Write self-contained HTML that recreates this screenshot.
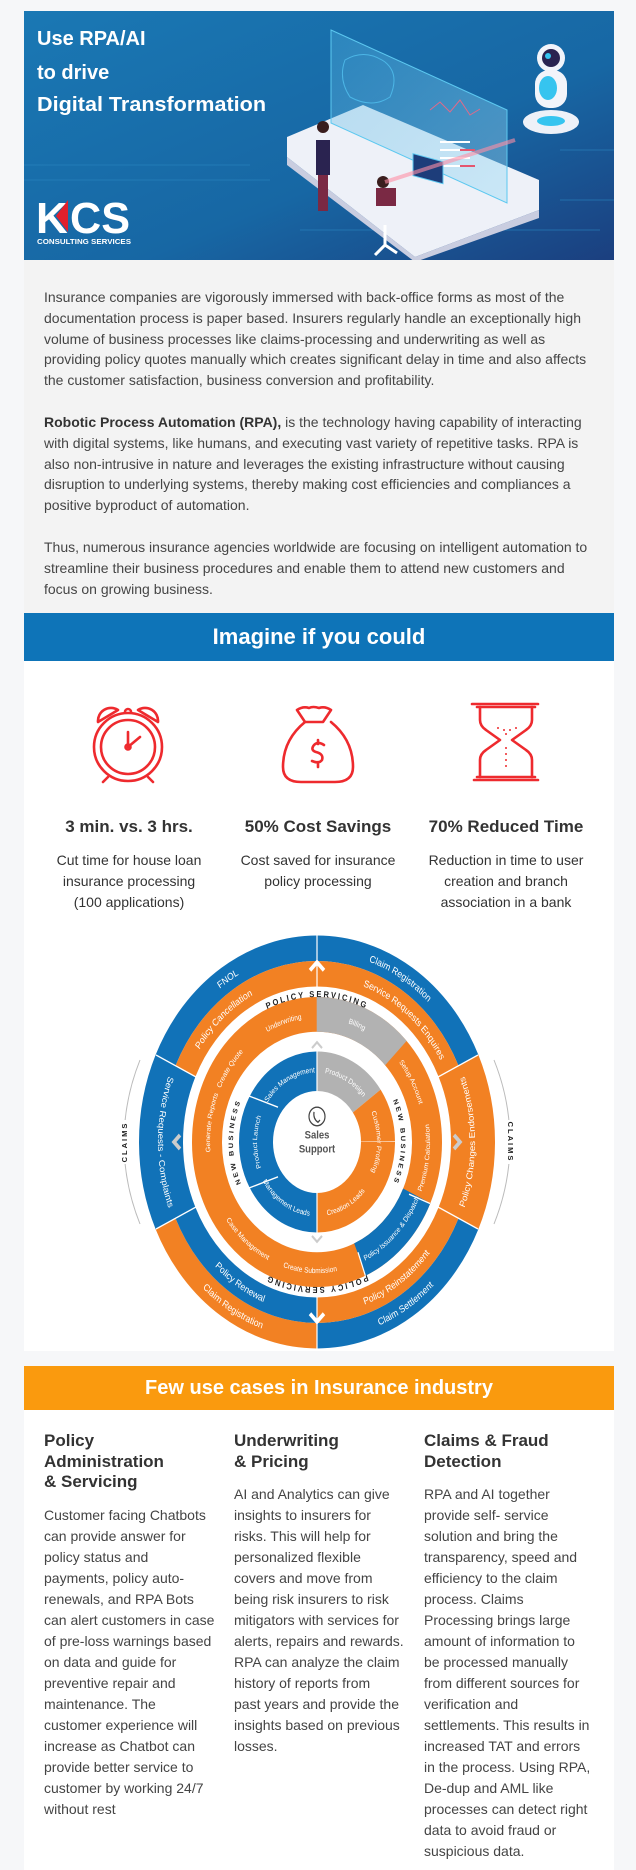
<!DOCTYPE html>
<html><head><meta charset="utf-8">
<style>
*{margin:0;padding:0;box-sizing:border-box}
html,body{width:636px;height:1870px;background:#f6f7f9;overflow:hidden}
body{position:relative;font-family:"Liberation Sans",Arial,sans-serif;color:#444}
.abs{position:absolute}
#txt{left:24px;top:260px;width:590px;height:353px;background:#f3f3f3}
#txt p{position:absolute;left:20px;font-size:14px;line-height:20.8px;white-space:nowrap;color:#454545}
#bar1{left:24px;top:613px;width:590px;height:48px;background:#0e74b8;color:#fff;font-weight:bold;font-size:22px;text-align:center;line-height:48px}
#white1{left:24px;top:661px;width:590px;height:690px;background:#fff}
.stat{position:absolute;width:200px;text-align:center}
.stat h3{font-size:17px;line-height:22px;color:#333;font-weight:bold}
.stat div{font-size:14px;line-height:21px;color:#333;margin-top:12px}
#bar2{left:24px;top:1366px;width:590px;height:44px;background:#fa9a0e;color:#fff;font-weight:bold;font-size:20px;text-align:center;line-height:44px}
#white2{left:24px;top:1410px;width:590px;height:460px;background:#fff}
.col{position:absolute;width:180px}
.col h4{font-size:17px;line-height:20.7px;color:#333;font-weight:bold}
.col p{font-size:14px;line-height:21px;color:#444;white-space:nowrap}
</style></head><body>

<!-- Banner -->
<svg class="abs" style="left:0;top:0" width="636" height="262" viewBox="0 0 636 262">
<defs>
<linearGradient id="bg" x1="0" y1="0" x2="1" y2="1">
<stop offset="0" stop-color="#1a78b4"/><stop offset="0.6" stop-color="#1767a4"/><stop offset="1" stop-color="#1b3f7f"/></linearGradient>
<linearGradient id="gl" x1="0" y1="0" x2="1" y2="1">
<stop offset="0" stop-color="#4fb0e0" stop-opacity="0.35"/><stop offset="1" stop-color="#9fdcf5" stop-opacity="0.45"/></linearGradient>
</defs>
<rect x="24" y="11" width="590" height="249" fill="url(#bg)"/>
<g stroke="#2a86c0" stroke-width="1" fill="none" opacity="0.6">
<path d="M24 165 H250 M24 180 H270 M300 230 H600 M560 150 H614 M560 200 H614"/>
</g>
<polygon points="287,137 363,105 539,180 539,210 415,257 287,157" fill="#eef1f8"/>
<polygon points="287,157 415,257 539,210 539,218 415,262 287,165" fill="#c9cde0"/>
<polygon points="331,30 507,110 507,203 331,123" fill="url(#gl)" stroke="#5cc8f0" stroke-width="1"/>
<path d="M345 60 q20 -12 40 2 q15 12 5 35 q-18 12 -40 0 q-12 -18 -5 -37z" fill="none" stroke="#4cb6e6" stroke-width="1"/>
<path d="M430 110 l10 -8 l10 10 l10 -12 l10 15 l10 -6" fill="none" stroke="#e06a8a" stroke-width="1"/>
<g stroke="#fff" stroke-width="2"><path d="M440 142 h30 M440 150 h35 M440 158 h30 M440 166 h35"/></g>
<g stroke="#e4566f" stroke-width="2"><path d="M460 150 h15 M460 166 h15"/></g>
<rect x="413" y="153" width="30" height="22" fill="#1d3d7a" stroke="#5cc8f0" transform="skewY(15) translate(0,-110)"/>
<!-- people -->
<rect x="316" y="140" width="14" height="35" fill="#2a2350"/>
<circle cx="323" cy="127" r="6" fill="#3a1e1e"/>
<rect x="318" y="175" width="10" height="36" fill="#7a2944"/>
<rect x="376" y="188" width="20" height="18" fill="#7a2944"/>
<circle cx="383" cy="182" r="6" fill="#3a1e1e"/>
<path d="M385 245 l-10 10 M385 245 l12 8 M385 245 v-20" stroke="#fff" stroke-width="3"/>
<!-- robot -->
<ellipse cx="551" cy="122" rx="28" ry="12" fill="#eef1f8"/>
<ellipse cx="551" cy="121" rx="14" ry="5" fill="#36c4ef"/>
<rect x="535" y="70" width="32" height="38" rx="14" fill="#f2f4fa"/>
<ellipse cx="548" cy="88" rx="9" ry="12" fill="#36c4ef"/>
<circle cx="551" cy="58" r="14" fill="#f2f4fa"/>
<circle cx="551" cy="58" r="9" fill="#2a2350"/>
<circle cx="548" cy="56" r="3" fill="#36c4ef"/>
<path d="M515 140 L385 182" stroke="#ff8fa6" stroke-width="4" opacity="0.6"/>
<!-- title -->
<g fill="#fff" font-family="Liberation Sans, sans-serif" font-weight="bold" font-size="20">
<text x="37" y="45">Use RPA/AI</text>
<text x="37" y="79">to drive</text>
<text x="37" y="111" textLength="229" lengthAdjust="spacingAndGlyphs">Digital Transformation</text>
</g>
<g font-family="Liberation Sans, sans-serif" font-weight="bold">
<text x="36" y="233" fill="#fff" font-size="44">K</text>
<polygon points="68,200 68,232 56,216" fill="#e0202c"/>
<text x="70" y="233" fill="#fff" font-size="44" textLength="60" lengthAdjust="spacingAndGlyphs">CS</text>
<text x="37" y="244" fill="#fff" font-size="7.5" textLength="94" lengthAdjust="spacingAndGlyphs">CONSULTING SERVICES</text>
</g>
</svg>

<div id="txt" class="abs">
<p style="top:27px">Insurance companies are vigorously immersed with back-office forms as most of the<br>documentation process is paper based. Insurers regularly handle an exceptionally high<br>volume of business processes like claims-processing and underwriting as well as<br>providing policy quotes manually which creates significant delay in time and also affects<br>the customer satisfaction, business conversion and profitability.</p>
<p style="top:152px"><b style="color:#333">Robotic Process Automation (RPA),</b> is the technology having capability of interacting<br>with digital systems, like humans, and executing vast variety of repetitive tasks. RPA is<br>also non-intrusive in nature and leverages the existing infrastructure without causing<br>disruption to underlying systems, thereby making cost efficiencies and compliances a<br>positive byproduct of automation.</p>
<p style="top:277px">Thus, numerous insurance agencies worldwide are focusing on intelligent automation to<br>streamline their business procedures and enable them to attend new customers and<br>focus on growing business.</p>
</div>

<div id="bar1" class="abs">Imagine if you could</div>
<div id="white1" class="abs"></div>

<div class="stat" style="left:29px;top:816px"><h3>3 min. vs. 3 hrs.</h3><div>Cut time for house loan<br>insurance processing<br>(100 applications)</div></div>
<div class="stat" style="left:218px;top:816px"><h3>50% Cost Savings</h3><div>Cost saved for insurance<br>policy processing</div></div>
<div class="stat" style="left:406px;top:816px"><h3>70% Reduced Time</h3><div>Reduction in time to user<br>creation and branch<br>association in a bank</div></div>

<svg class="abs" style="left:0;top:0" width="636" height="1360" viewBox="0 0 636 1360">
<!-- icons -->
<g fill="none" stroke="#ee2a2e" stroke-width="2.6" stroke-linecap="round" stroke-linejoin="round">
<circle cx="128" cy="747" r="34"/>
<circle cx="128" cy="747" r="27"/>
<path d="M128 747 v-15 M128 747 l12 -10"/>
<circle cx="128" cy="747" r="2.5"/>
<path d="M98 722 a13 13 0 0 1 20 -12 z M158 722 a13 13 0 0 0 -20 -12 z"/>
<path d="M125 712 a3 3 0 0 1 6 0"/>
<path d="M108 777 l-5 5 M148 777 l5 5"/>
<!-- bag -->
<path d="M305 722 l-8 -12 q6 -4 12 -2 q4 -2 10 0 q6 -2 12 2 l-8 12 z"/>
<path d="M305 722 q-22 18 -22 45 q0 15 18 15 h34 q18 0 18 -15 q0 -27 -22 -45"/>
<path d="M324 745 q-6 -4 -10 0 q-4 5 2 7 q8 2 6 8 q-3 4 -10 1 M318 740 v4 M318 762 v5"/>
<!-- hourglass -->
<path d="M472 704 h66 M474 780 h64 M477 707 h58 M477 777 h58"/>
<path d="M480 707 v13 q0 6 6 10 l14 10 l-14 10 q-6 4 -6 10 v17 M532 707 v13 q0 6 -6 10 l-14 10 l14 10 q6 4 6 10 v17"/>
</g>
<g fill="#ee2a2e"><circle cx="498" cy="728" r="1"/><circle cx="504" cy="730" r="1"/><circle cx="510" cy="730" r="1"/><circle cx="516" cy="728" r="1"/><circle cx="506" cy="734" r="1"/><circle cx="506" cy="748" r="1"/><circle cx="506" cy="754" r="1"/><circle cx="506" cy="760" r="1"/><circle cx="506" cy="766" r="1"/></g>

<!-- CLAIMS side labels -->
<g fill="none" stroke="#bbb" stroke-width="1">
<path d="M140 1060 q-16 40 -16 82 q0 42 16 82"/>
<path d="M494 1060 q16 40 16 82 q0 42 -16 82"/>
</g>
<rect x="118" y="1120" width="12" height="44" fill="#fff"/>
<rect x="505" y="1120" width="12" height="44" fill="#fff"/>
<text transform="translate(127,1142) rotate(-90)" text-anchor="middle" font-size="7.5" font-weight="bold" letter-spacing="2" fill="#222" font-family="Liberation Sans, sans-serif">CLAIMS</text>
<text transform="translate(508,1142) rotate(90)" text-anchor="middle" font-size="7.5" font-weight="bold" letter-spacing="2" fill="#222" font-family="Liberation Sans, sans-serif">CLAIMS</text>

<g transform="translate(317,1142) scale(1,1.16)" font-family="Liberation Sans, sans-serif">
<defs>
<path id="cw167" d="M164,0 A164 164 0 1 1 -164,0 A164 164 0 1 1 164,0"/>
<path id="ccw167" d="M170,0 A170 170 0 1 0 -170,0 A170 170 0 1 0 170,0"/>
<path id="cw145" d="M142,0 A142 142 0 1 1 -142,0 A142 142 0 1 1 142,0"/>
<path id="ccw145" d="M148,0 A148 148 0 1 0 -148,0 A148 148 0 1 0 148,0"/>
<path id="ccwL156" d="M-158,0 A158 158 0 1 0 158,0 A158 158 0 1 0 -158,0"/>
<path id="ccw156" d="M159,0 A159 159 0 1 0 -159,0 A159 159 0 1 0 159,0"/>
<path id="cw125" d="M125,0 A125 125 0 1 1 -125,0 A125 125 0 1 1 125,0"/>
<path id="cw108" d="M107,0 A107 107 0 1 1 -107,0 A107 107 0 1 1 107,0"/>
<path id="ccw112" d="M113,0 A113 113 0 1 0 -113,0 A113 113 0 1 0 113,0"/>
<path id="ccwL112" d="M-113,0 A113 113 0 1 0 113,0 A113 113 0 1 0 -113,0"/>
<path id="cwL85" d="M-84,0 A84 84 0 1 1 84,0 A84 84 0 1 1 -84,0"/>
<path id="cw62" d="M60,0 A60 60 0 1 1 -60,0 A60 60 0 1 1 60,0"/>
<path id="cwL62" d="M-60,0 A60 60 0 1 1 60,0 A60 60 0 1 1 -60,0"/>
<path id="ccw62" d="M64,0 A64 64 0 1 0 -64,0 A64 64 0 1 0 64,0"/>
</defs>
<g fill="none">
<!-- outer top -->
<circle r="167" stroke="#1172b8" stroke-width="22" pathLength="360" stroke-dasharray="130 360" stroke-dashoffset="-205"/>
<circle r="145" stroke="#f28123" stroke-width="22" pathLength="360" stroke-dasharray="130 360" stroke-dashoffset="-205"/>
<!-- right -->
<circle r="156" stroke="#f28123" stroke-width="44" pathLength="360" stroke-dasharray="25 360" stroke-dashoffset="-335"/>
<circle r="156" stroke="#f28123" stroke-width="44" pathLength="360" stroke-dasharray="25 360" stroke-dashoffset="0"/>
<!-- left -->
<circle r="156" stroke="#1172b8" stroke-width="44" pathLength="360" stroke-dasharray="50 360" stroke-dashoffset="-155"/>
<!-- bottom -->
<circle r="167" stroke="#1172b8" stroke-width="22" pathLength="360" stroke-dasharray="65 360" stroke-dashoffset="-25"/>
<circle r="167" stroke="#f28123" stroke-width="22" pathLength="360" stroke-dasharray="65 360" stroke-dashoffset="-90"/>
<circle r="145" stroke="#f28123" stroke-width="22" pathLength="360" stroke-dasharray="65 360" stroke-dashoffset="-25"/>
<circle r="145" stroke="#1172b8" stroke-width="22" pathLength="360" stroke-dasharray="65 360" stroke-dashoffset="-90"/>
<!-- middle ring -->
<circle r="110" stroke="#f28123" stroke-width="30"/>
<circle r="110" stroke="#b2b2b2" stroke-width="30" pathLength="360" stroke-dasharray="46 360" stroke-dashoffset="-270"/>
<circle r="110" stroke="#1172b8" stroke-width="30" pathLength="360" stroke-dasharray="42 360" stroke-dashoffset="-25"/>
<!-- inner ring -->
<circle r="61" stroke="#1172b8" stroke-width="34" pathLength="360" stroke-dasharray="180 360" stroke-dashoffset="-90"/>
<circle r="61" stroke="#b2b2b2" stroke-width="34" pathLength="360" stroke-dasharray="55 360" stroke-dashoffset="-270"/>
<circle r="61" stroke="#f28123" stroke-width="34" pathLength="360" stroke-dasharray="35 360" stroke-dashoffset="-325"/>
<circle r="61" stroke="#f28123" stroke-width="34" pathLength="360" stroke-dasharray="90 360" stroke-dashoffset="0"/>
</g>
<!-- dividers -->
<g stroke="#fff" stroke-width="1.2">
<path d="M0 -178 V-125 M0 178 V125 M0 -78 V-44 M0 78 V44"/>
<path d="M-121 -56 L-161 -75 M121 -56 L161 -75 M-121 56 L-161 75 M121 56 L161 75"/>
<path d="M-39 -30 L-72 -41 M-39 30 L-72 41"/>
<path d="M92 45 L113 53 M41 95 L49 117"/>
</g>
<!-- arrows -->
<path d="M-7 -148 L0 -155 L7 -148" stroke="#fff" stroke-width="3.5" fill="none"/>
<path d="M-7 148 L0 155 L7 148" stroke="#fff" stroke-width="3.5" fill="none"/>
<path d="M-5 -81 L0 -86 L5 -81" stroke="#ccc" stroke-width="2" fill="none"/>
<path d="M-5 81 L0 86 L5 81" stroke="#ccc" stroke-width="2" fill="none"/>
<path d="M-137 -6 L-143 0 L-137 6" stroke="#ccc" stroke-width="3.5" fill="none"/>
<path d="M137 -6 L143 0 L137 6" stroke="#ccc" stroke-width="3.5" fill="none"/>
<!-- center -->
<g fill="none" stroke="#444" stroke-width="1.2"><circle cx="0" cy="-22" r="8"/><path d="M-3 -26 q-1 6 4 9 l2 -2"/></g>
<text x="0" y="-3" text-anchor="middle" font-size="9.5" font-weight="bold" fill="#555">Sales</text>
<text x="0" y="9" text-anchor="middle" font-size="9.5" font-weight="bold" fill="#555">Support</text>
<g fill="#fff" font-size="8.5" text-anchor="middle">
<text><textPath href="#cw167" startOffset="66%">FNOL</textPath></text>
<text><textPath href="#cw167" startOffset="83.5%">Claim Registration</textPath></text>
<text><textPath href="#ccw167" startOffset="66.5%">Claim Registration</textPath></text>
<text><textPath href="#ccw167" startOffset="84%">Claim Settlement</textPath></text>
<text><textPath href="#cw145" startOffset="63.5%">Policy Cancellation</textPath></text>
<text><textPath href="#cw145" startOffset="86%">Service Requests Enquires</textPath></text>
<text><textPath href="#ccw145" startOffset="66%">Policy Renewal</textPath></text>
<text><textPath href="#ccw145" startOffset="84.5%">Policy Reinstatement</textPath></text>
<text><textPath href="#ccw156" startOffset="50%">Service Requests - Complaints</textPath></text>
<text><textPath href="#ccwL156" startOffset="50%">Policy Changes Endorsements</textPath></text>
</g>
<g fill="#222" font-size="7.5" font-weight="bold" letter-spacing="2" text-anchor="middle">
<text><textPath href="#cw125" startOffset="75%">POLICY SERVICING</textPath></text>
<text><textPath href="#cw125" startOffset="25%">POLICY SERVICING</textPath></text>
</g>
<g fill="#222" font-size="6.5" font-weight="bold" letter-spacing="2" text-anchor="middle">
<text><textPath href="#cwL85" startOffset="0%">NEW BUSINESS</textPath></text>
<text><textPath href="#cwL85" startOffset="100%">NEW BUSINESS</textPath></text>
<text><textPath href="#cwL85" startOffset="50%">NEW BUSINESS</textPath></text>
</g>
<g fill="#fff" font-size="6.5" text-anchor="middle">
<text><textPath href="#cw108" startOffset="70%">Underwriting</textPath></text>
<text><textPath href="#cw108" startOffset="81%">Billing</textPath></text>
<text><textPath href="#cw108" startOffset="60%">Create Quote</textPath></text>
<text><textPath href="#cw108" startOffset="52.5%">Generate Reports</textPath></text>
<text><textPath href="#cw108" startOffset="92%">Setup Account</textPath></text>
<text><textPath href="#ccwL112" startOffset="48%">Premium Calculation</textPath></text>
<text><textPath href="#ccw112" startOffset="87.5%">Policy Issuance &amp; Dispatch</textPath></text>
<text><textPath href="#ccw112" startOffset="74%">Create Submission</textPath></text>
<text><textPath href="#ccw112" startOffset="64%">Case Management</textPath></text>
<text><textPath href="#cw62" startOffset="67%">Sales Management</textPath></text>
<text><textPath href="#cw62" startOffset="83%">Product Design</textPath></text>
<text><textPath href="#cwL62" startOffset="0%">Product Launch</textPath></text>
<text><textPath href="#cwL62" startOffset="100%">Product Launch</textPath></text>
<text><textPath href="#cwL62" startOffset="50%">Customer Profiling</textPath></text>
<text><textPath href="#ccw62" startOffset="66%">Management Leads</textPath></text>
<text><textPath href="#ccw62" startOffset="83%">Creation Leads</textPath></text>
</g>
</g>
</svg>

<div id="bar2" class="abs">Few use cases in Insurance industry</div>
<div id="white2" class="abs"></div>

<div class="col" style="left:44px;top:1431px"><h4>Policy<br>Administration<br>&amp; Servicing</h4>
<p style="margin-top:12px">Customer facing Chatbots<br>can provide answer for<br>policy status and<br>payments, policy auto-<br>renewals, and RPA Bots<br>can alert customers in case<br>of pre-loss warnings based<br>on data and guide for<br>preventive repair and<br>maintenance. The<br>customer experience will<br>increase as Chatbot can<br>provide better service to<br>customer by working 24/7<br>without rest</p></div>
<div class="col" style="left:234px;top:1431px"><h4>Underwriting<br>&amp; Pricing</h4>
<p style="margin-top:12px">AI and Analytics can give<br>insights to insurers for<br>risks. This will help for<br>personalized flexible<br>covers and move from<br>being risk insurers to risk<br>mitigators with services for<br>alerts, repairs and rewards.<br>RPA can analyze the claim<br>history of reports from<br>past years and provide the<br>insights based on previous<br>losses.</p></div>
<div class="col" style="left:424px;top:1431px"><h4>Claims &amp; Fraud<br>Detection</h4>
<p style="margin-top:12px">RPA and AI together<br>provide self- service<br>solution and bring the<br>transparency, speed and<br>efficiency to the claim<br>process. Claims<br>Processing brings large<br>amount of information to<br>be processed manually<br>from different sources for<br>verification and<br>settlements. This results in<br>increased TAT and errors<br>in the process. Using RPA,<br>De-dup and AML like<br>processes can detect right<br>data to avoid fraud or<br>suspicious data.</p></div>
</body></html>
